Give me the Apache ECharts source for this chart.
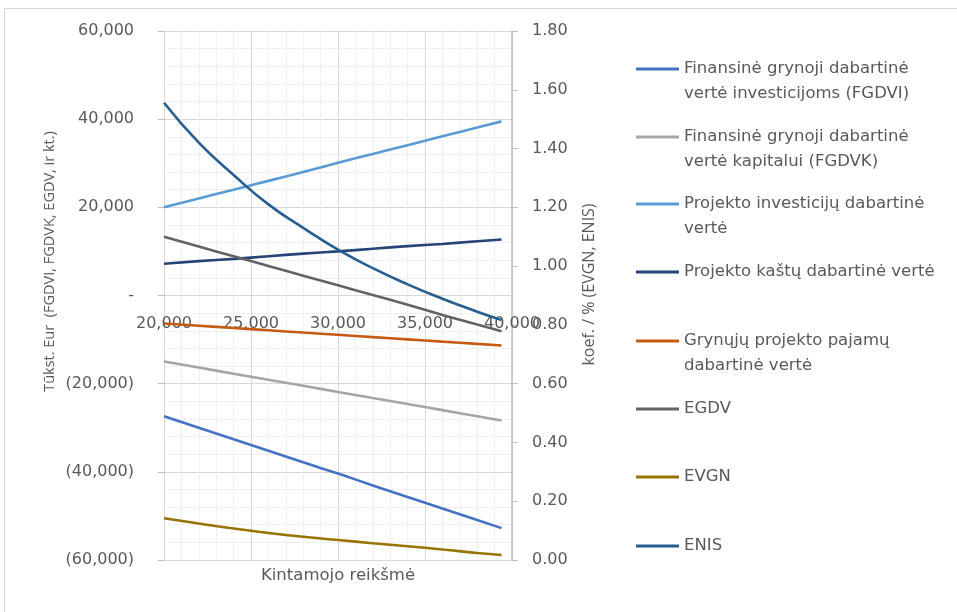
<!DOCTYPE html>
<html>
<head>
<meta charset="utf-8">
<title>Jautrumo analizė</title>
<script src="https://cdn.jsdelivr.net/npm/echarts@6/dist/echarts.min.js"></script>
<style>
  html, body { margin: 0; padding: 0; background: #ffffff; }
  #chart { width: 957px; height: 612px; }
</style>
</head>
<body>
<div id="chart"></div>
<script>
// Kintamojo reikšmės (x)
const xValues = [20000, 22000, 24000, 26000, 28000, 30000, 32000, 34000, 36000, 38000, 39400];

// Tūkst. Eur
const fgdvi = [-27370, -29990, -32610, -35230, -37850, -40400, -43080, -45700, -48320, -50940, -52770];
const fgdvk = [-14970, -16350, -17730, -19110, -20490, -21870, -23250, -24620, -26000, -27380, -28350];
const projInvest = [20000, 22000, 24000, 26000, 28000, 30100, 32100, 34100, 36100, 38100, 39500];
const projKastai = [7200, 7800, 8300, 8900, 9500, 10000, 10600, 11200, 11700, 12300, 12700];
const grynPajamos = [-6350, -6860, -7380, -7890, -8410, -8920, -9440, -9950, -10470, -10980, -11340];
const egdv = [13300, 11100, 8900, 6700, 4500, 2300, 100, -2100, -4400, -6600, -8100];

// koef. / %
const evgn = [0.142, 0.124, 0.107, 0.092, 0.079, 0.068, 0.057, 0.047, 0.036, 0.024, 0.017];
const enis = [1.556, 1.42, 1.31, 1.21, 1.13, 1.056, 0.993, 0.938, 0.889, 0.845, 0.817];

const seriesNames = [
  'Finansinė grynoji dabartinė vertė investicijoms (FGDVI)',
  'Finansinė grynoji dabartinė vertė kapitalui (FGDVK)',
  'Projekto investicijų dabartinė vertė',
  'Projekto kaštų dabartinė vertė',
  'Grynųjų projekto pajamų dabartinė vertė',
  'EGDV',
  'EVGN',
  'ENIS'
];
// Legend wording, broken into lines
const legendLines = [
  ['Finansinė grynoji dabartinė', 'vertė investicijoms (FGDVI)'],
  ['Finansinė grynoji dabartinė', 'vertė kapitalui (FGDVK)'],
  ['Projekto investicijų dabartinė', 'vertė'],
  ['Projekto kaštų dabartinė vertė'],
  ['Grynųjų projekto pajamų', 'dabartinė vertė'],
  ['EGDV'],
  ['EVGN'],
  ['ENIS']
];
const seriesValues = [fgdvi, fgdvk, projInvest, projKastai, grynPajamos, egdv, evgn, enis];
const seriesAxis = [0, 0, 0, 0, 0, 0, 1, 1];
const seriesColors = ['#4472C4', '#A5A5A5', '#5B9BD5', '#264478', '#C55A11', '#636363', '#997300', '#255E91'];

const legendIconY = [69, 137, 204, 272, 341, 409, 477, 546];
const LINE_H = 25;

// plot box
const GRID_TOP = 31;
const GRID_BOTTOM = 52;
const CHART_H = 612;
const plotH = CHART_H - GRID_TOP - GRID_BOTTOM;

const textColor = '#595959';
const gridColor = '#d9d9d9';
const minorColor = '#f0f0f0';
const wideFont = 'DejaVu Sans';
const narrowFont = 'Open Sans';

function thousands(v) {
  return Math.abs(v).toString().replace(/\B(?=(\d{3})+(?!\d))/g, ',');
}

// One legend block per series so each icon sits beside the first text line
const legends = seriesNames.map((name, i) => {
  const lines = legendLines[i];
  const twoLines = lines.length > 1;
  // an empty leading line keeps the first text line level with the icon
  const text = twoLines ? '\n' + lines.join('\n') : lines[0];
  const boxH = twoLines ? LINE_H * 3 : LINE_H;
  return {
    data: [name],
    left: 636,
    top: legendIconY[i] - boxH / 2,
    padding: 0,
    icon: 'rect',
    itemWidth: 43,
    itemHeight: 3,
    selectedMode: false,
    formatter: () => text,
    textStyle: {
      color: textColor,
      fontFamily: wideFont,
      fontSize: 16.5,
      lineHeight: LINE_H
    }
  };
});

const series = seriesNames.map((name, i) => ({
  name: name,
  type: 'line',
  yAxisIndex: seriesAxis[i],
  data: xValues.map((x, k) => [x, seriesValues[i][k]]),
  smooth: 0.5,
  showSymbol: false,
  symbol: 'none',
  lineStyle: { width: 2.6, color: seriesColors[i] },
  itemStyle: { color: seriesColors[i] },
  emphasis: { disabled: true }
}));

const chart = echarts.init(document.getElementById('chart'), null, { renderer: 'canvas' });
chart.setOption({
  animation: false,
  backgroundColor: '#ffffff',
  grid: { left: 164, right: 445, top: GRID_TOP, bottom: GRID_BOTTOM, containLabel: false, outerBoundsMode: 'none' },
  legend: legends,
  graphic: [{
    type: 'rect',
    silent: true,
    shape: { x: 4.5, y: 8.5, width: 1000, height: 700 },
    style: { fill: 'none', stroke: gridColor, lineWidth: 1 }
  }],
  xAxis: {
    type: 'value',
    min: 20000,
    max: 40000,
    interval: 5000,
    // the x axis runs along the zero line of the left axis (midway up)
    offset: -plotH / 2,
    name: 'Kintamojo reikšmė',
    nameLocation: 'middle',
    nameGap: 272,
    nameTextStyle: { color: textColor, fontFamily: wideFont, fontSize: 16.5 },
    axisLine: { onZero: false, lineStyle: { color: gridColor, width: 1 } },
    axisTick: { show: false },
    axisLabel: {
      color: textColor, fontFamily: wideFont, fontSize: 16, margin: 20,
      formatter: v => thousands(v)
    },
    splitLine: { show: true, lineStyle: { color: gridColor, width: 1 } },
    minorTick: { show: false, splitNumber: 5 },
    minorSplitLine: { show: true, lineStyle: { color: minorColor, width: 1 } }
  },
  yAxis: [{
    type: 'value',
    min: -60000,
    max: 60000,
    interval: 20000,
    name: 'Tūkst. Eur  (FGDVI, FGDVK, EGDV, ir kt.)',
    nameLocation: 'middle',
    nameGap: 107,
    nameTextStyle: {
      color: textColor, fontFamily: narrowFont, fontSize: 14.5,
      padding: [0, 0, 0, 68]
    },
    axisLine: { show: true, onZero: false, lineStyle: { color: gridColor, width: 1 } },
    axisTick: { show: true, length: 6, lineStyle: { color: '#bfbfbf' } },
    axisLabel: {
      color: textColor, fontFamily: wideFont, fontSize: 16, margin: 30,
      formatter: v => v === 0 ? '-' : (v < 0 ? '(' + thousands(v) + ')' : thousands(v))
    },
    splitLine: { show: true, lineStyle: { color: gridColor, width: 1 } },
    minorTick: { show: false, splitNumber: 5 },
    minorSplitLine: { show: true, lineStyle: { color: minorColor, width: 1 } }
  }, {
    type: 'value',
    min: 0,
    max: 1.8,
    interval: 0.2,
    position: 'right',
    name: 'koef. / % (EVGN, ENIS)',
    nameLocation: 'middle',
    nameGap: 69,
    nameTextStyle: {
      color: textColor, fontFamily: narrowFont, fontSize: 16,
      padding: [0, 0, 0, 22]
    },
    axisLine: { show: true, onZero: false, lineStyle: { color: '#bfbfbf', width: 1.5 } },
    axisTick: { show: true, length: 6, lineStyle: { color: '#bfbfbf' } },
    axisLabel: {
      color: textColor, fontFamily: wideFont, fontSize: 16, margin: 20,
      formatter: v => v.toFixed(2)
    },
    splitLine: { show: false }
  }],
  series: series
});
</script>
</body>
</html>
